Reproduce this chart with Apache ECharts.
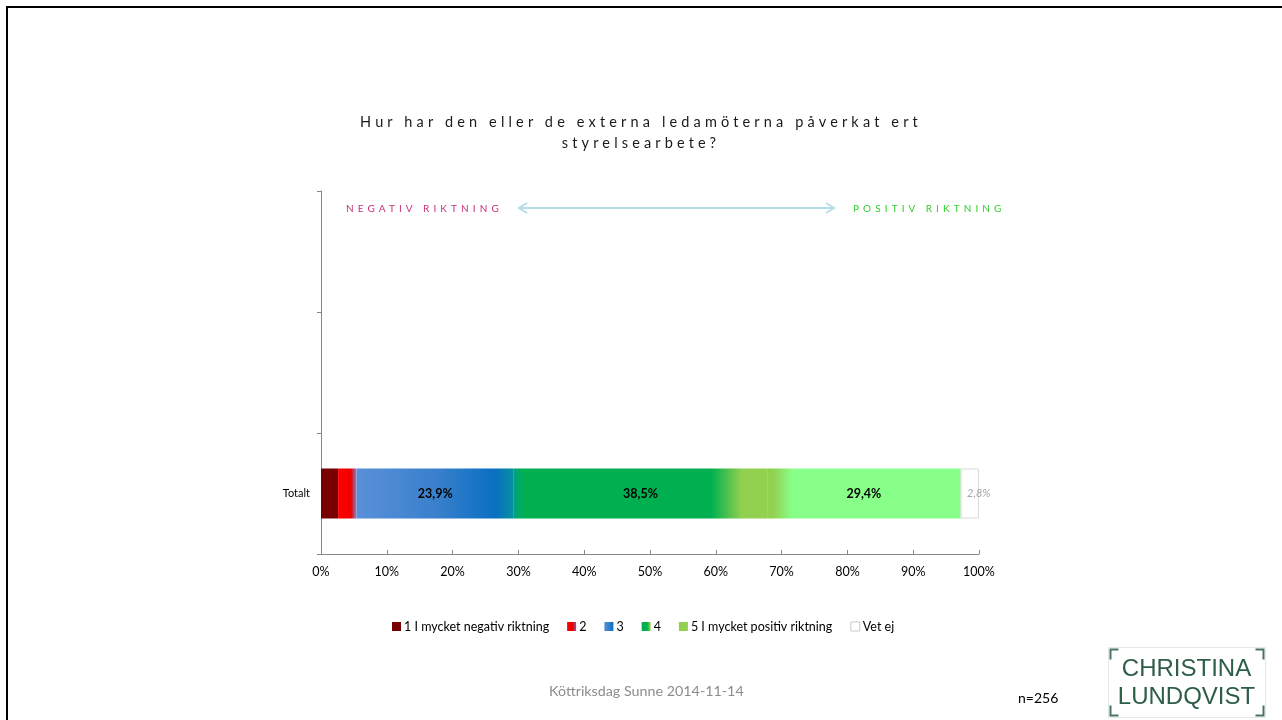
<!DOCTYPE html>
<html>
<head>
<meta charset="utf-8">
<script src="https://cdn.jsdelivr.net/npm/echarts@6/dist/echarts.min.js"></script>
<style>
  body { margin: 0; background: #fff; }
  #wrap { position: relative; width: 1282px; height: 720px; overflow: hidden; }
  #chart { width: 1282px; height: 720px; }
  .spaced { position: absolute; white-space: nowrap; font-family: Lato, sans-serif; }
  #t1, #t2 { left: 0; width: 1282px; text-align: center; font-size: 14.5px; letter-spacing: 4.15px; color: #1a1a1a; }
  #t1 { top: 113px; }
  #t2 { top: 134px; }
  #neg { left: 346px; top: 202px; font-size: 10px; letter-spacing: 4.1px; color: #c8307a; }
  #pos { left: 853px; top: 202px; font-size: 10px; letter-spacing: 4.1px; color: #33cc33; }
</style>
</head>
<body>
<div id="wrap">
  <div id="chart"></div>
  <div class="spaced" id="t1">Hur har den eller de externa ledamöterna påverkat ert</div>
  <div class="spaced" id="t2">styrelsearbete?</div>
  <div class="spaced" id="neg">NEGATIV RIKTNING</div>
  <div class="spaced" id="pos">POSITIV RIKTNING</div>
</div>
<script>
// data
var categories = ['Totalt', ' ', '  '];
var seriesNames = ['1 I mycket negativ riktning', '2', '3', '4', '5 I mycket positiv riktning', 'Vet ej'];
var val1 = [2.6, '-', '-'];
var val2 = [2.8, '-', '-'];
var val3 = [23.9, '-', '-'];
var val4 = [38.5, '-', '-'];
var val5 = [29.4, '-', '-'];
var valVetEj = [2.8, '-', '-'];
var xTicks = [0, 10, 20, 30, 40, 50, 60, 70, 80, 90, 100];

var chart = echarts.init(document.getElementById('chart'));

function grad(stops) {
  return new echarts.graphic.LinearGradient(0, 0, 1, 0, stops.map(function (s) {
    return { offset: s[0], color: s[1] };
  }));
}

function pctLabel(p) {
  return String(p.value).replace('.', ',') + '%';
}

var boldLabel = {
  show: true,
  position: 'inside',
  color: '#000',
  fontWeight: 'bold',
  fontSize: 12.5,
  formatter: pctLabel
};

var allData = [val1, val2, val3, val4, val5, valVetEj];
var fills = [
  '#780000',
  grad([[0, '#ff0000'], [0.7, '#ee0000'], [1, '#7f86c8']]),
  grad([[0, '#5a90d8'], [0.5, '#3a80cc'], [0.88, '#0a6fc2'], [1, '#0592a0']]),
  grad([[0, '#00a080'], [0.04, '#00b050'], [0.78, '#00b050'], [0.9, '#92d050'], [1, '#92d050']]),
  grad([[0, '#92d050'], [0.03, '#92d050'], [0.13, '#88ff88'], [1, '#88ff88']]),
  '#ffffff'
];
var legendColors = ['#780000', grad([[0, '#ff0000'], [0.6, '#ee0000'], [1, '#7060b0']]),
  grad([[0, '#5a90d8'], [1, '#0a6fc2']]), grad([[0, '#00b050'], [0.6, '#00b050'], [1, '#92d050']]),
  '#92d050', '#ffffff'];

var series = allData.map(function (d, i) {
  var s = {
    name: seriesNames[i],
    type: 'bar',
    stack: 'total',
    barWidth: 50,
    data: d,
    itemStyle: { color: fills[i] },
    emphasis: { disabled: true },
    label: { show: false }
  };
  if (i >= 2 && i <= 4) s.label = boldLabel;
  if (i === 5) {
    s.itemStyle = { color: '#fff', borderColor: '#d9d9d9', borderWidth: 1 };
    s.label = {
      show: true, position: 'inside', offset: [9, 0],
      color: '#a6a6a6', fontStyle: 'italic', fontSize: 11, formatter: pctLabel
    };
  }
  return s;
});

var option = {
  animation: false,
  textStyle: { fontFamily: 'Lato, sans-serif' },
  grid: { left: 321, right: 303, top: 191, bottom: 166, containLabel: false },
  legend: {
    left: 387,
    top: 615,
    itemWidth: 9,
    itemHeight: 9,
    itemGap: 18,
    icon: 'rect',
    textStyle: { fontSize: 12.5, color: '#000', padding: [0, 0, 0, -2] },
    data: seriesNames.map(function (n, i) {
      var it = { name: n, itemStyle: { color: legendColors[i] } };
      if (i === 5) it.itemStyle = { color: '#fff', borderColor: '#c8c8c8', borderWidth: 1 };
      return it;
    })
  },
  xAxis: {
    type: 'value',
    min: xTicks[0],
    max: xTicks[xTicks.length - 1],
    interval: 10,
    axisLine: { show: true, lineStyle: { color: '#868686' } },
    axisTick: { show: true, inside: true, length: 4, lineStyle: { color: '#868686' } },
    splitLine: { show: false },
    axisLabel: { formatter: '{value}%', color: '#000', fontSize: 12.5, margin: 11 }
  },
  yAxis: {
    type: 'category',
    data: categories,
    axisLine: { show: true, lineStyle: { color: '#868686' } },
    axisTick: { show: true, length: 4, lineStyle: { color: '#868686' } },
    axisLabel: { color: '#000', fontSize: 11, margin: 11 }
  },
  series: series,
  graphic: [
    // slide frame
    { type: 'polyline', shape: { points: [[7, 720], [7, 7], [1282, 7]] }, style: { stroke: '#000', lineWidth: 2, fill: null } },
    // direction arrow
    { type: 'line', shape: { x1: 519, y1: 208, x2: 834, y2: 208 }, style: { stroke: '#b7dde8', lineWidth: 2 } },
    { type: 'polyline', shape: { points: [[527, 203], [519, 208], [527, 213]] }, style: { stroke: '#b7dde8', lineWidth: 2, fill: null } },
    { type: 'polyline', shape: { points: [[826, 203], [834, 208], [826, 213]] }, style: { stroke: '#b7dde8', lineWidth: 2, fill: null } },
    // footer
    { type: 'text', left: 549, top: 684, style: { text: 'Köttriksdag Sunne 2014-11-14', fill: '#8c8c8c', font: '14.3px Lato, sans-serif' } },
    { type: 'text', left: 1018, top: 691, style: { text: 'n=256', fill: '#000', font: '14px Lato, sans-serif' } },
    // logo
    {
      type: 'group', left: 1106, top: 645,
      children: [
        { type: 'rect', shape: { x: 0, y: 0, width: 157, height: 70 }, style: { fill: null, stroke: '#e3e9e6', lineWidth: 1 } },
        { type: 'polyline', shape: { points: [[2, 12], [2, 2], [10, 2]] }, style: { stroke: '#4a7561', lineWidth: 2, fill: null } },
        { type: 'polyline', shape: { points: [[147, 2], [155, 2], [155, 12]] }, style: { stroke: '#4a7561', lineWidth: 2, fill: null } },
        { type: 'polyline', shape: { points: [[2, 58], [2, 68], [10, 68]] }, style: { stroke: '#4a7561', lineWidth: 2, fill: null } },
        { type: 'polyline', shape: { points: [[147, 68], [155, 68], [155, 58]] }, style: { stroke: '#4a7561', lineWidth: 2, fill: null } },
        { type: 'text', x: 78, y: 22, style: { text: 'CHRISTINA', fill: '#2e5e46', font: '24px "Liberation Sans", sans-serif', align: 'center', verticalAlign: 'middle' } },
        { type: 'text', x: 78, y: 50, style: { text: 'LUNDQVIST', fill: '#2e5e46', font: '24px "Liberation Sans", sans-serif', align: 'center', verticalAlign: 'middle' } }
      ]
    }
  ]
};

chart.setOption(option);
window.addEventListener('resize', function () { chart.resize(); });
</script>
</body>
</html>
